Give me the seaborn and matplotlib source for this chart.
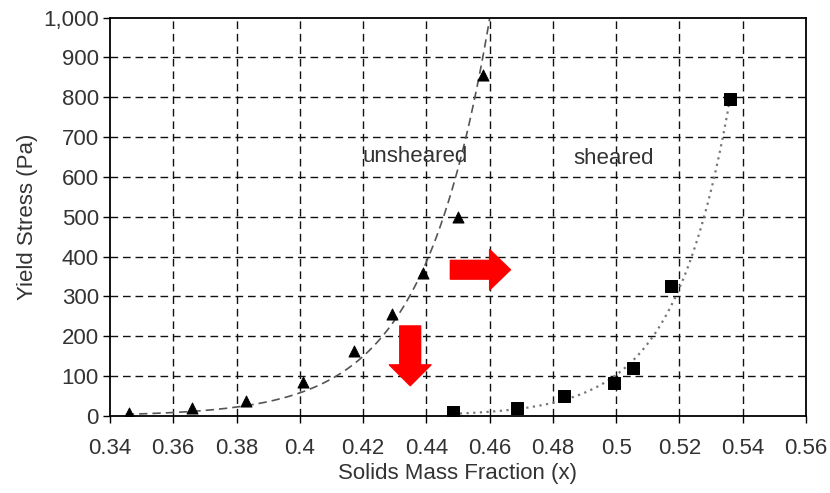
import numpy as np
import pandas as pd
import matplotlib
matplotlib.use("Agg")
import matplotlib.pyplot as plt
from matplotlib.ticker import FuncFormatter
import seaborn as sns

# ---- data ----
unsheared_x = [0.346, 0.366, 0.383, 0.401, 0.417, 0.429, 0.439, 0.450, 0.458]
unsheared_y = [8, 21, 38, 85, 162, 256, 358, 499, 856]
sheared_x = [0.4485, 0.4687, 0.4835, 0.4994, 0.5052, 0.5172, 0.5359]
sheared_y = [9, 19, 50, 82, 121, 325, 796]

# exponential trendlines y = y_ref * exp(rate * (x - x_ref))
unsheared_fit = dict(x_ref=0.40, y_ref=58.0, rate=47.4, x_start=0.345, x_end=0.4615)
sheared_fit = dict(x_ref=0.50, y_ref=103.0, rate=56.8, x_start=0.4485, x_end=0.5359)

x_ticks = [0.34, 0.36, 0.38, 0.40, 0.42, 0.44, 0.46, 0.48, 0.50, 0.52, 0.54, 0.56]
y_ticks = [0, 100, 200, 300, 400, 500, 600, 700, 800, 900, 1000]

sns.set_theme(style="white")
plt.rcParams["font.family"] = ["Liberation Sans", "DejaVu Sans"]

fig = plt.figure(figsize=(8.3, 4.93), dpi=100)
ax = fig.add_axes([0.1325, 0.1562, 0.971 - 0.1325, 0.9645 - 0.1562])

# grid
for xv in x_ticks[1:-1]:
    ax.axvline(xv, color="#111111", lw=1.0, ls=(0, (5.5, 3.5)), zorder=0)
for yv in y_ticks[1:-1]:
    ax.axhline(yv, color="#111111", lw=1.0, ls=(0, (5.5, 3.5)), zorder=0)

def curve(p):
    xs = np.linspace(p["x_start"], p["x_end"], 300)
    ys = p["y_ref"] * np.exp(p["rate"] * (xs - p["x_ref"]))
    return pd.DataFrame({"x": xs, "y": ys})

cu = curve(unsheared_fit)
cs = curve(sheared_fit)
sns.lineplot(data=cu, x="x", y="y", ax=ax, color="#555555", lw=1.2,
             linestyle=(0, (5, 3)), zorder=2)
sns.lineplot(data=cs, x="x", y="y", ax=ax, color="#777777", lw=1.6,
             linestyle=(0, (1, 2)), zorder=2)

pts = pd.DataFrame({
    "x": unsheared_x + sheared_x,
    "y": unsheared_y + sheared_y,
    "state": ["unsheared"] * len(unsheared_x) + ["sheared"] * len(sheared_x),
})
sns.scatterplot(data=pts[pts.state == "unsheared"], x="x", y="y", ax=ax,
                marker="^", s=64, color="black", edgecolor="black", zorder=3,
                legend=False)
sns.scatterplot(data=pts[pts.state == "sheared"], x="x", y="y", ax=ax,
                marker="s", s=78, color="black", edgecolor="black", zorder=3,
                legend=False)

# red arrows
ax.annotate("", xy=(0.4666, 367), xytext=(0.4476, 367),
            arrowprops=dict(arrowstyle="simple,head_length=15,head_width=29,tail_width=13.5",
                            mutation_scale=1, color="#ff0000", shrinkA=0, shrinkB=0), zorder=4)
ax.annotate("", xy=(0.4349, 76), xytext=(0.4349, 226),
            arrowprops=dict(arrowstyle="simple,head_length=15,head_width=30,tail_width=15",
                            mutation_scale=1, color="#ff0000", shrinkA=0, shrinkB=0), zorder=4)

# labels
ax.text(0.4198, 650, "unsheared", fontsize=16, color="#333333", va="center", ha="left")
ax.text(0.4865, 645, "sheared", fontsize=16, color="#333333", va="center", ha="left")

ax.set_xlim(0.34, 0.56)
ax.set_ylim(0, 1000)
ax.set_xticks(x_ticks)
ax.set_yticks(y_ticks)
ax.xaxis.set_major_formatter(FuncFormatter(lambda v, p: f"{v:g}"))
ax.yaxis.set_major_formatter(FuncFormatter(lambda v, p: f"{v:,.0f}"))
ax.tick_params(axis="both", direction="out", length=5, width=1.0, color="black",
               labelsize=16, labelcolor="#333333", pad=3)
ax.tick_params(axis="x", pad=11)
ax.tick_params(axis="both", bottom=True, left=True)
ax.set_xlabel("Solids Mass Fraction (x)", fontsize=16, color="#333333", labelpad=3)
ax.set_ylabel("Yield Stress (Pa)", fontsize=16, color="#333333", labelpad=4)

for s in ax.spines.values():
    s.set_visible(True)
    s.set_color("black")
    s.set_linewidth(1.3)

fig.savefig("out.png", dpi=100)
